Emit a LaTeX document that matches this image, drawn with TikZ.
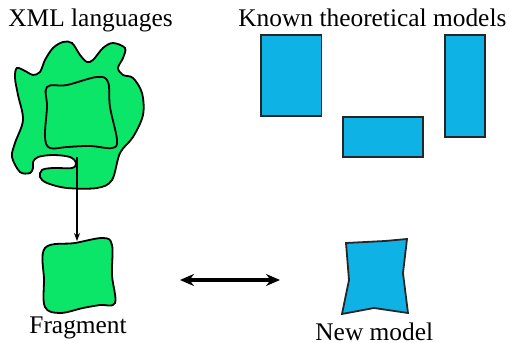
\documentclass[tikz,border=0pt]{standalone}
\usepackage{fontspec}
\setmainfont{Liberation Serif}
\usetikzlibrary{arrows.meta}
\definecolor{xmlgreen}{RGB}{12,230,104}
\definecolor{modelblue}{RGB}{14,178,228}

\tikzset{
    label text/.style={inner sep=0pt, anchor=base west, font=\fontsize{12.7}{15}\selectfont},
    xml shape/.style={draw=black, fill=xmlgreen, line width=0.9pt},
    model shape/.style={draw=black!85, fill=modelblue, line width=0.9pt}
}

\begin{document}
\begin{tikzpicture}[x=0.5pt, y=-0.5pt]
\useasboundingbox (0,0) rectangle (511,343);

% labels
\node[label text] (xmllang) at (8,26) {XML languages};
\node[label text] (known) at (238,26) {Known theoretical models};
\node[label text] (fragment) at (29,334) {Fragment};
\node[label text] (newmodel) at (315,340) {New model};

% XML languages blob
\draw[xml shape] plot[smooth cycle, tension=0.55] coordinates {
    (17,68) (27,72) (33,75) (40,72) (45,60) (53,48) (63,42) (72,43)
    (80,55) (87,62) (93,60) (103,48) (113,43) (125,48) (123,58)
    (118,68) (123,75) (133,78) (142,93) (143,115) (133,137) (120,153)
    (112,180) (97,188) (67,188) (47,183) (40,177) (42,170) (53,168)
    (72,168) (76,163) (70,157) (53,155) (38,157) (33,162) (33,168)
    (30,173) (20,172) (12,157) (15,143) (23,120) (18,95) (15,78)};
\draw[line width=0.9pt] plot[smooth cycle, tension=0.6] coordinates {
    (47,87) (67,85) (97,77) (108,82) (110,107) (117,140) (112,148)
    (90,146) (67,147) (50,148) (45,137) (47,107)};

% fragment
\draw[xml shape] plot[smooth cycle, tension=0.6] coordinates {
    (45,248) (75,243) (103,238) (112,245) (112,275) (115,303)
    (100,305) (83,308) (60,313) (45,307) (44,280)};

% known models
\draw[model shape] (261,35) rectangle (321.5,116);
\draw[model shape] (343,117) rectangle (423,157);
\draw[model shape] (445,35) rectangle (485,137);

% new model
\draw[model shape] (346,243) -- (385,241) -- (407,239) -- (403,273)
    -- (408,313) -- (374,308) -- (342,314) -- (349,280) -- cycle;

% connectors
\coordinate (blobpt) at (77,157);
\coordinate (fragtop) at (77,241);
\coordinate (leftend) at (180,280);
\coordinate (rightend) at (280,280);
\draw[-{Stealth[length=4pt, width=3pt]}, line width=0.6pt] (blobpt) -- (fragtop);
\draw[{Stealth[length=7pt, width=6pt]}-{Stealth[length=7pt, width=6pt]}, line width=1.8pt] (leftend) -- (rightend);
\end{tikzpicture}
\end{document}
